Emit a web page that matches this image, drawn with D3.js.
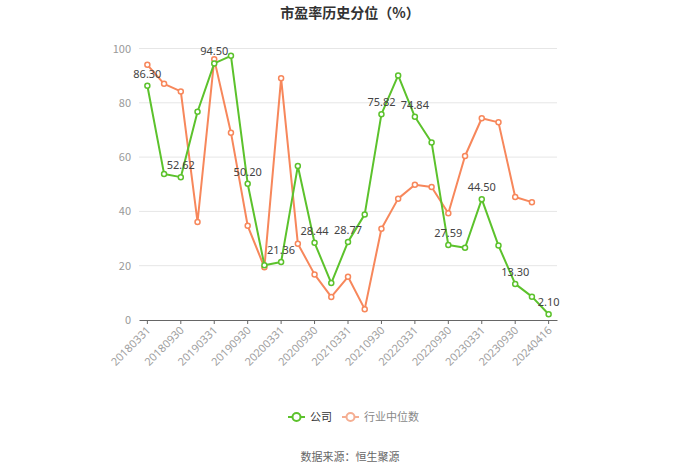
<!DOCTYPE html>
<html><head><meta charset="utf-8">
<script src="https://cdn.jsdelivr.net/npm/d3@7"></script>
<style>body{margin:0;background:#fff;}svg{display:block;font-family:"Noto Sans CJK SC","Noto Sans",sans-serif;}</style>
</head><body><svg id="c" width="700" height="474"></svg>
<script>
const categories = ["20180331","20180630","20180930","20181231","20190331","20190630","20190930","20191231","20200331","20200630","20200930","20201231","20210331","20210630","20210930","20211231","20220331","20220630","20220930","20221231","20230331","20230630","20230930","20231231","20240416"];
const companyValues = [86.30,53.8,52.62,76.7,94.50,97.3,50.20,20.2,21.36,56.7,28.44,13.6,28.77,38.9,75.82,90.1,74.84,65.4,27.59,26.6,44.50,27.4,13.30,8.6,2.10];
const industryValues = [94.0,87.0,84.2,36.1,96.0,69.0,34.7,19.4,89.0,28.1,16.8,8.5,15.9,4.0,33.6,44.7,49.8,49.0,39.3,60.4,74.3,72.8,45.3,43.4,null];
const yTicks = [0,20,40,60,80,100];
const seriesNames = ["公司","行业中位数"];
const colors = ["#5cc22c","#f7875b"];

const svg = d3.select("#c");
const L=139, R=557, T=48.5, B=320;
const x = d3.scaleBand().domain(categories).range([L,R]);
const y = d3.scaleLinear().domain([0,100]).range([B,T]);
const cx = d => x(d)+x.bandwidth()/2;

svg.append("text").attr("x",350).attr("y",18).attr("text-anchor","middle")
  .attr("font-size",14).attr("font-weight","bold").attr("fill","#333").text("市盈率历史分位（%）");

// grid
svg.append("g").selectAll("line").data(yTicks.filter(t=>t>0)).join("line")
  .attr("x1",L).attr("x2",R).attr("y1",d=>y(d)).attr("y2",d=>y(d))
  .attr("stroke","#e6e6e6").attr("stroke-width",1);
// y labels
svg.append("g").selectAll("text").data(yTicks).join("text")
  .attr("x",131).attr("y",d=>y(d)+4).attr("text-anchor","end")
  .attr("font-size",11).attr("fill","#999").text(d=>d);

// x axis
const xAxis = d3.axisBottom(x).tickValues(categories.filter((d,i)=>i%2===0)).tickSize(4).tickSizeOuter(0);
const gx = svg.append("g").attr("transform",`translate(0,${B})`).call(xAxis);
gx.select(".domain").attr("stroke","#666");
gx.selectAll(".tick line").attr("stroke","#666");
gx.selectAll(".tick text").attr("fill","#a0a0a0").attr("font-size",11)
  .attr("font-family","\"Noto Sans\",sans-serif")
  .attr("text-anchor","end").attr("dy",0).attr("dx",0)
  .attr("transform","translate(-1,6) rotate(-45)");

function drawSeries(vals,color,labels){
  const data = categories.map((c,i)=>({c,v:vals[i],i})).filter(d=>d.v!=null);
  const line = d3.line().x(d=>cx(d.c)).y(d=>y(d.v));
  svg.append("path").datum(data).attr("d",line).attr("fill","none")
    .attr("stroke",color).attr("stroke-width",2).attr("stroke-linejoin","round");
  svg.append("g").selectAll("circle").data(data).join("circle")
    .attr("cx",d=>cx(d.c)).attr("cy",d=>y(d.v)).attr("r",2.5)
    .attr("fill","#fff").attr("stroke",color).attr("stroke-width",1.5);
  if(labels){
    svg.append("g").selectAll("text").data(data.filter(d=>d.i%2===0)).join("text")
      .attr("x",d=>cx(d.c)).attr("y",d=>y(d.v)-8).attr("text-anchor","middle")
      .attr("font-size",11).attr("fill","#444")
      .attr("font-family","\"Noto Sans\",sans-serif")
      .text(d=>d.v.toFixed(2));
  }
}
drawSeries(industryValues,colors[1],false);
drawSeries(companyValues,colors[0],true);

// legend
const lg = svg.append("g");
const items = [{x:288,name:seriesNames[0],c:colors[0],t:"#333"},{x:342,name:seriesNames[1],c:"#f5ae92",t:"#888"}];
items.forEach(it=>{
  lg.append("line").attr("x1",it.x).attr("x2",it.x+17).attr("y1",417).attr("y2",417).attr("stroke",it.c).attr("stroke-width",2);
  lg.append("circle").attr("cx",it.x+8.5).attr("cy",417).attr("r",4).attr("fill","#fff").attr("stroke",it.c).attr("stroke-width",2);
  lg.append("text").attr("x",it.x+22).attr("y",421).attr("font-size",11).attr("fill",it.t).text(it.name);
});

svg.append("text").attr("x",350).attr("y",461).attr("text-anchor","middle")
  .attr("font-size",11).attr("fill","#666").text("数据来源：恒生聚源");
</script></body></html>
